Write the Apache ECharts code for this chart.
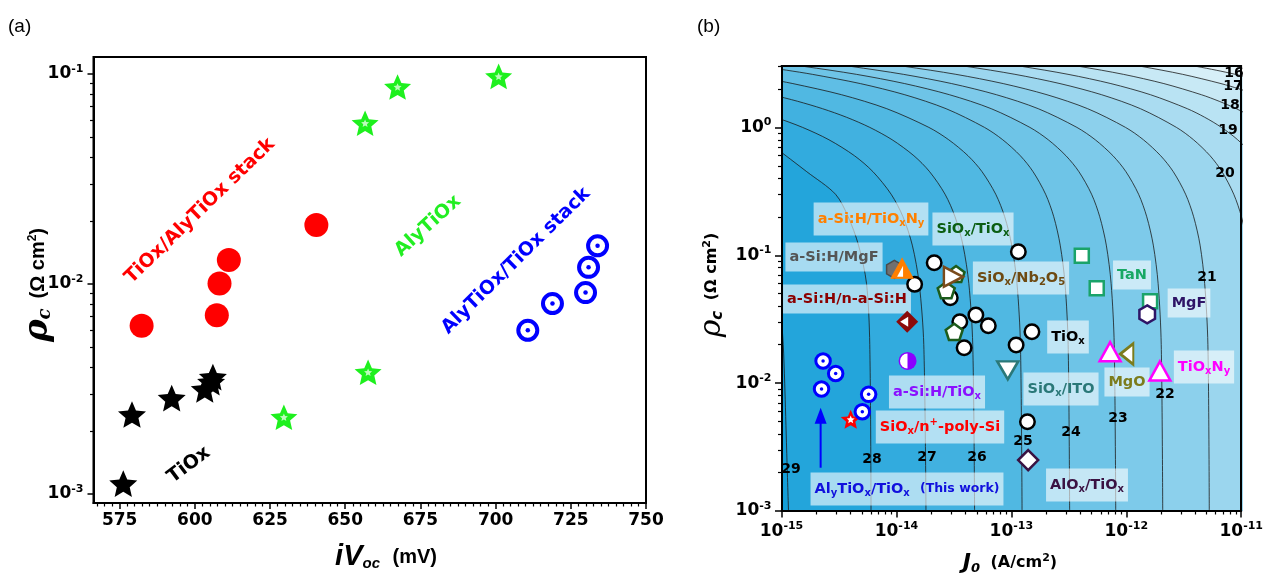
<!DOCTYPE html>
<html><head><meta charset="utf-8">
<script src="https://cdn.jsdelivr.net/npm/echarts@6/dist/echarts.min.js"></script>
<style>html,body{margin:0;padding:0;background:#fff}#c{width:1266px;height:574px}</style>
</head><body><div id="c"></div>
<script>
// ================= Panel (a) data =================
const ivocTicks = [575, 600, 625, 650, 675, 700, 725, 750];
const rhoExpTicksA = [-3, -2, -1];
const tiOxV = [576.2, 579.1, 592.3, 603.3, 605.4, 606.0];
const tiOxRho = [1.12e-3, 2.39e-3, 2.86e-3, 3.15e-3, 3.41e-3, 3.60e-3];
const stackTiAlV = [582.3, 607.3, 608.2, 611.3, 640.4];
const stackTiAlRho = [6.33e-3, 7.10e-3, 1.005e-2, 1.30e-2, 1.91e-2];
const alTiOxV = [629.6, 657.6, 656.6, 667.4, 701.0];
const alTiOxRho = [2.32e-3, 3.80e-3, 5.83e-2, 8.67e-2, 9.74e-2];
const stackAlTiV = [710.7, 718.9, 729.9, 730.9, 733.9];
const stackAlTiRho = [6.02e-3, 8.07e-3, 9.10e-3, 1.20e-2, 1.52e-2];

// ================= Panel (b) data =================
const j0ExpTicks = [-15, -14, -13, -12, -11];
const rhoExpTicksB = [-3, -2, -1, 0];
const contourLevels = [16, 17, 18, 19, 20, 21, 22, 23, 24, 25, 26, 27, 28, 29];
// contour points: [log10 J0, rho_c]
const contour16 = [[-11.572,3.2],[-11.391,3.0],[-11.218,2.8],[-11.051,2.6],[-10.891,2.4],[-10.589,2.0]];
const contour17 = [[-12.064,3.2],[-11.871,3.0],[-11.510,2.6],[-11.176,2.2],[-11.019,2.0],[-10.868,1.8],[-10.726,1.6]];
const contour18 = [[-12.613,3.2],[-12.409,3.0],[-12.026,2.6],[-11.673,2.2],[-11.346,1.8],[-11.192,1.6],[-11.043,1.4],[-10.900,1.2],[-10.761,1.0]];
const contour19 = [[-13.126,3.2],[-12.911,3.0],[-12.507,2.6],[-12.134,2.2],[-11.789,1.8],[-11.469,1.4],[-11.318,1.2],[-11.172,1.0],[-11.031,0.8],[-10.894,0.6],[-10.795,0.45]];
const contour20 = [[-13.621,3.2],[-13.394,3.0],[-12.969,2.6],[-12.577,2.2],[-12.214,1.8],[-11.877,1.4],[-11.564,1.0],[-11.415,0.8],[-11.271,0.6],[-11.167,0.45],[-11.065,0.3],[-10.998,0.2],[-10.946,0.12],[-10.907,0.06]];
const contour21 = [[-14.167,3.2],[-13.930,3.0],[-13.483,2.6],[-13.071,2.2],[-12.690,1.8],[-12.336,1.4],[-12.007,1.0],[-11.851,0.8],[-11.701,0.6],[-11.591,0.45],[-11.484,0.3],[-11.414,0.2],[-11.358,0.12],[-11.318,0.06],[-11.290,0.02],[-11.278,0.001]];
const contour22 = [[-14.641,3.2],[-14.398,3.0],[-13.940,2.6],[-13.519,2.2],[-13.129,1.8],[-12.766,1.4],[-12.430,1.0],[-12.270,0.8],[-12.116,0.6],[-12.003,0.45],[-11.893,0.3],[-11.822,0.2],[-11.765,0.12],[-11.723,0.06],[-11.696,0.02],[-11.683,0.001]];
const contour23 = [[-15.050,3.2],[-14.807,3.0],[-14.349,2.6],[-13.928,2.2],[-13.538,1.8],[-13.175,1.4],[-12.839,1.0],[-12.679,0.8],[-12.525,0.6],[-12.412,0.45],[-12.302,0.3],[-12.231,0.2],[-12.174,0.12],[-12.132,0.06],[-12.105,0.02],[-12.092,0.001]];
const contour24 = [[-15.186,3.0],[-14.955,2.8],[-14.732,2.6],[-14.314,2.2],[-13.927,1.8],[-13.568,1.4],[-13.234,1.0],[-13.075,0.8],[-12.922,0.6],[-12.811,0.45],[-12.702,0.3],[-12.631,0.2],[-12.575,0.12],[-12.533,0.06],[-12.506,0.02],[-12.493,0.001]];
const contour25 = [[-15.359,2.6],[-15.125,2.4],[-14.901,2.2],[-14.477,1.8],[-14.084,1.4],[-13.718,1.0],[-13.545,0.8],[-13.377,0.6],[-13.255,0.45],[-13.136,0.3],[-13.058,0.2],[-12.997,0.12],[-12.951,0.06],[-12.921,0.02],[-12.907,0.001]];
const contour26 = [[-15.319,2.0],[-15.085,1.8],[-14.860,1.6],[-14.643,1.4],[-14.434,1.2],[-14.232,1.0],[-14.037,0.8],[-13.848,0.6],[-13.711,0.45],[-13.577,0.3],[-13.490,0.2],[-13.421,0.12],[-13.370,0.06],[-13.336,0.02],[-13.320,0.001]];
const contour27 = [[-15.301,1.4],[-15.055,1.2],[-14.817,1.0],[-14.587,0.8],[-14.365,0.6],[-14.204,0.45],[-14.046,0.3],[-13.943,0.2],[-13.862,0.12],[-13.802,0.06],[-13.762,0.02],[-13.743,0.001]];
const contour28 = [[-15.15,0.8],[-15.06,0.7],[-14.78,0.45],[-14.53,0.3],[-14.42,0.2],[-14.33,0.12],[-14.26,0.06],[-14.232,0.02],[-14.221,0.001]];
const contour29 = [[-15.03,0.045],[-15.0,0.03],[-14.985,0.02],[-14.972,0.01],[-14.955,0.003],[-14.939,0.001]];
const contourPaths = [contour16, contour17, contour18, contour19, contour20, contour21, contour22, contour23, contour24, contour25, contour26, contour27, contour28, contour29];

const thisWorkJ = [2.30e-15, 2.96e-15, 2.23e-15, 5.73e-15, 5.05e-15];
const thisWorkRho = [0.0149, 0.0119, 0.0090, 0.00817, 0.00597];
const arrowJ = [2.19e-15, 2.19e-15];
const arrowRho = [0.00218, 0.00555];
const polySiJ = [4.0e-15], polySiRho = [0.00521];
const aSiTiOxJ = [1.25e-14], aSiTiOxRho = [0.0149];
const aSiNaSiJ = [1.24e-14], aSiNaSiRho = [0.0302];
const aSiTiOxNyJ = [1.12e-14], aSiTiOxNyRho = [0.079];
const aSiMgFJ = [9.6e-15], aSiMgFRho = [0.0776];
const tiOxJ = [1.15e-13, 2.13e-14, 1.44e-14, 2.94e-14, 3.56e-14, 4.91e-14, 6.30e-14, 3.88e-14, 1.10e-13, 1.51e-13, 1.38e-13];
const tiOxRhoB = [0.1065, 0.0874, 0.0592, 0.0465, 0.0302, 0.0341, 0.0281, 0.0189, 0.0199, 0.0252, 0.00499];
const siOxTiOxJ = [3.30e-14, 2.71e-14, 3.18e-14], siOxTiOxRho = [0.0713, 0.0534, 0.0252];
const siOxNbJ = [3.13e-14], siOxNbRho = [0.0679];
const siOxItoJ = [9.3e-14], siOxItoRho = [0.0126];
const tanJ = [4.10e-13, 5.53e-13, 1.61e-12], tanRho = [0.0991, 0.0551, 0.0436];
const mgfJ = [1.52e-12], mgfRho = [0.0345];
const tiOxNyJ = [7.23e-13, 1.96e-12], tiOxNyRho = [0.0176, 0.01244];
const mgoJ = [1.01e-12], mgoRho = [0.01689];
const alOxJ = [1.40e-13], alOxRho = [0.0025];

// ================= helpers =================
const FONT = 'DejaVu Sans';
const starPath = 'path://M50,0 L63.52,31.39 L97.55,34.55 L71.87,57.11 L79.39,90.45 L50,73 L20.61,90.45 L28.13,57.11 L2.45,34.55 L36.48,31.39 Z';
const hexPath = 'path://M43.3,0 L86.6,25 L86.6,75 L43.3,100 L0,75 L0,25 Z';
const pentPath = 'path://M50,0 L97.6,34.5 L79.4,90.5 L20.6,90.5 L2.4,34.5 Z';
const halfDiscPath = 'path://M50,0 A50,50 0 0 0 50,100 Z';
const cornerTriPath = 'path://M100,0 L100,100 L0,100 Z';

function zip(xs, ys) { return xs.map((x, i) => [x, ys[i]]); }
function logMinor(lo, hi) {
  const out = [];
  for (let d = Math.floor(lo); d <= Math.ceil(hi); d++)
    for (let k = 2; k <= 9; k++) { const v = d + Math.log10(k); if (v > lo + 1e-9 && v < hi - 1e-9) out.push(v); }
  return out;
}
const lightBand = [230, 245, 250], darkBand = [20, 159, 217];
function band(i) { const t = i / 14; const c = lightBand.map((l, k) => Math.round(l + (darkBand[k] - l) * t)); return 'rgb(' + c.join(',') + ')'; }

const tickRich = {
  b: { fontFamily: FONT, fontWeight: 'bold', fontSize: 17, color: '#000' },
  e: { fontFamily: FONT, fontWeight: 'bold', fontSize: 11, color: '#000', padding: [0, 0, 10, 0] }
};
function powLabel(v) { return '{b|10}{e|' + Math.round(v) + '}'; }

// panel (a) ranges
const aXMin = 566.3, aXMax = 750;
const aYMin = 9.06e-4, aYMax = 0.1205;
const aYMinL = Math.log10(aYMin), aYMaxL = Math.log10(aYMax);
const aMinorX = []; for (let v = 567.5; v < 750; v += 2.5) if (v % 25 !== 0) aMinorX.push(v);
// panel (b) ranges
const bYMax = 3.02, bYMaxL = Math.log10(bYMax);

const blackLine = { show: true, onZero: false, lineStyle: { color: '#000', width: 2 } };
const noLine = { show: false, onZero: false };

const xAxes = [
  { gridIndex: 0, type: 'value', position: 'bottom', min: aXMin, max: aXMax, z: 10,
    axisLine: blackLine, splitLine: { show: false },
    axisTick: { show: true, customValues: ivocTicks, length: 6, lineStyle: { color: '#000', width: 1.5 } },
    axisLabel: { show: true, customValues: ivocTicks, margin: 9, fontFamily: FONT, fontWeight: 'bold', fontSize: 17, color: '#000' } },
  { gridIndex: 0, type: 'value', position: 'bottom', min: aXMin, max: aXMax, z: 10,
    axisLine: noLine, splitLine: { show: false }, axisLabel: { show: false },
    axisTick: { show: true, customValues: aMinorX, length: 3.5, lineStyle: { color: '#000', width: 1.2 } } },
  { gridIndex: 1, type: 'log', logBase: 10, min: 1e-15, max: 1e-11, show: false, splitLine: { show: false } },
  { gridIndex: 1, type: 'value', position: 'bottom', min: -15, max: -11, z: 10,
    axisLine: blackLine, splitLine: { show: false },
    axisTick: { show: true, customValues: j0ExpTicks, length: 6.5, lineStyle: { color: '#000', width: 1.5 } },
    axisLabel: { show: true, customValues: j0ExpTicks, margin: 10, formatter: powLabel, rich: tickRich } },
  { gridIndex: 1, type: 'value', position: 'bottom', min: -15, max: -11, z: 10,
    axisLine: noLine, splitLine: { show: false }, axisLabel: { show: false },
    axisTick: { show: true, customValues: logMinor(-15, -11), length: 3.5, lineStyle: { color: '#000', width: 1.2 } } },
  { gridIndex: 1, type: 'value', position: 'top', min: -15, max: -11, z: 10,
    axisLine: blackLine, splitLine: { show: false }, axisLabel: { show: false }, axisTick: { show: false } }
];
const yAxes = [
  { gridIndex: 0, type: 'log', logBase: 10, min: aYMin, max: aYMax, show: false, splitLine: { show: false } },
  { gridIndex: 0, type: 'value', position: 'left', min: aYMinL, max: aYMaxL, z: 10,
    axisLine: blackLine, splitLine: { show: false },
    axisTick: { show: true, customValues: rhoExpTicksA, length: 6, lineStyle: { color: '#000', width: 1.5 } },
    axisLabel: { show: true, customValues: rhoExpTicksA, margin: 10, formatter: powLabel, rich: tickRich } },
  { gridIndex: 0, type: 'value', position: 'left', min: aYMinL, max: aYMaxL, z: 10,
    axisLine: noLine, splitLine: { show: false }, axisLabel: { show: false },
    axisTick: { show: true, customValues: logMinor(aYMinL, aYMaxL), length: 3.5, lineStyle: { color: '#000', width: 1.2 } } },
  { gridIndex: 1, type: 'log', logBase: 10, min: 1e-3, max: bYMax, show: false, splitLine: { show: false } },
  { gridIndex: 1, type: 'value', position: 'left', min: -3, max: bYMaxL, z: 10,
    axisLine: blackLine, splitLine: { show: false },
    axisTick: { show: true, customValues: rhoExpTicksB, length: 6.5, lineStyle: { color: '#000', width: 1.5 } },
    axisLabel: { show: true, customValues: rhoExpTicksB, margin: 10, formatter: powLabel, rich: tickRich } },
  { gridIndex: 1, type: 'value', position: 'left', min: -3, max: bYMaxL, z: 10,
    axisLine: noLine, splitLine: { show: false }, axisLabel: { show: false },
    axisTick: { show: true, customValues: logMinor(-3, bYMaxL), length: 3.5, lineStyle: { color: '#000', width: 1.2 } } },
  { gridIndex: 1, type: 'value', position: 'right', min: -3, max: bYMaxL, z: 10,
    axisLine: blackLine, splitLine: { show: false }, axisLabel: { show: false }, axisTick: { show: false } }
];

function sc(xi, yi, xs, ys, symbol, size, itemStyle, extra) {
  return Object.assign({ type: 'scatter', xAxisIndex: xi, yAxisIndex: yi, data: zip(xs, ys), symbol: symbol,
    symbolSize: size, symbolKeepAspect: true, itemStyle: Object.assign({ opacity: 1 }, itemStyle), z: 5, silent: true, animation: false }, extra || {});
}
const series = [];
// ---- panel (a) ----
series.push(sc(0, 0, tiOxV, tiOxRho, starPath, 28, { color: '#000' }));
series.push(sc(0, 0, stackTiAlV, stackTiAlRho, 'circle', 24, { color: '#ff0000' }));
series.push(sc(0, 0, alTiOxV, alTiOxRho, starPath, 27, { color: '#1ef01e' }));
series.push(sc(0, 0, alTiOxV, alTiOxRho, starPath, 8, { color: '#ffffff', opacity: 0.7 }, { z: 6 }));
series.push(sc(0, 0, stackAlTiV, stackAlTiRho, 'circle', 19, { color: '#fff', borderColor: '#0000ff', borderWidth: 4 }));
series.push(sc(0, 0, stackAlTiV, stackAlTiRho, 'circle', 4.5, { color: '#0000ff' }, { z: 6 }));

// ---- panel (b) contours ----
contourLevels.forEach((lev, i) => {
  const pts = contourPaths[i].map(p => [Math.pow(10, p[0]), p[1]]);
  if (pts[0][1] >= bYMax) { pts.unshift([pts[0][0], 60]); pts.unshift([1e-16, 60]); }
  series.push({ type: 'line', xAxisIndex: 2, yAxisIndex: 3, data: pts, smooth: 0.3,
    symbol: 'none', showSymbol: false, clip: true, silent: true, animation: false, z: 1,
    lineStyle: { color: '#1a1a1a', width: 0.8 },
    areaStyle: { color: band(lev - 15), opacity: 1, origin: 'start' } });
});

// ---- panel (b) markers ----
const W = '#ffffff';
series.push(sc(2, 3, tiOxJ, tiOxRhoB, 'circle', 14.5, { color: W, borderColor: '#000', borderWidth: 2.5 }));
series.push(sc(2, 3, siOxTiOxJ, siOxTiOxRho, pentPath, 17, { color: W, borderColor: '#1c5c1c', borderWidth: 2.5 }));
series.push(sc(2, 3, siOxNbJ, siOxNbRho, 'triangle', [20, 19], { color: W, borderColor: '#7a4b1c', borderWidth: 2.5 }, { symbolRotate: -90, symbolKeepAspect: false }));
series.push(sc(2, 3, aSiMgFJ, aSiMgFRho, hexPath, 18, { color: '#707070', borderColor: '#4a4a4a', borderWidth: 1.5 }));
series.push(sc(2, 3, aSiTiOxNyJ, aSiTiOxNyRho, 'triangle', [22, 20], { color: '#ff7f00', borderColor: '#ff7f00', borderWidth: 1 }, { symbolKeepAspect: false }));
series.push(sc(2, 3, aSiTiOxNyJ, aSiTiOxNyRho, cornerTriPath, [6, 11], { color: W }, { symbolOffset: [-2, 3], symbolKeepAspect: false, z: 6 }));
series.push(sc(2, 3, aSiNaSiJ, aSiNaSiRho, 'diamond', 22, { color: '#8b0a0a' }));
series.push(sc(2, 3, aSiNaSiJ, aSiNaSiRho, 'triangle', [10, 8], { color: W }, { symbolRotate: 90, symbolOffset: [-3, 0], symbolKeepAspect: false, z: 6 }));
series.push(sc(2, 3, aSiTiOxJ, aSiTiOxRho, 'circle', 18, { color: '#8b00ff' }));
series.push(sc(2, 3, aSiTiOxJ, aSiTiOxRho, halfDiscPath, [7.5, 15], { color: W }, { symbolOffset: [-3.8, 0], symbolKeepAspect: false, z: 6 }));
series.push(sc(2, 3, siOxItoJ, siOxItoRho, 'triangle', [21, 18], { color: W, borderColor: '#2a7878', borderWidth: 2.5 }, { symbolRotate: 180, symbolKeepAspect: false }));
series.push(sc(2, 3, tanJ, tanRho, 'rect', 14, { color: W, borderColor: '#1aa36a', borderWidth: 2.5 }));
series.push(sc(2, 3, mgfJ, mgfRho, hexPath, 18, { color: W, borderColor: '#2e1466', borderWidth: 2.5 }));
series.push(sc(2, 3, tiOxNyJ, tiOxNyRho, 'triangle', [21, 19], { color: W, borderColor: '#ff00ff', borderWidth: 2.5 }, { symbolKeepAspect: false }));
series.push(sc(2, 3, mgoJ, mgoRho, 'triangle', [21, 13], { color: W, borderColor: '#7c7c1c', borderWidth: 2.5 }, { symbolRotate: 90, symbolKeepAspect: false }));
series.push(sc(2, 3, alOxJ, alOxRho, 'diamond', 20, { color: W, borderColor: '#3a1242', borderWidth: 2.5 }));
series.push(sc(2, 3, polySiJ, polySiRho, starPath, 20, { color: '#ff0000' }));
series.push(sc(2, 3, polySiJ, polySiRho, starPath, 8, { color: W }, { z: 6 }));
series.push(sc(2, 3, thisWorkJ, thisWorkRho, 'circle', 14.5, { color: W, borderColor: '#0000ff', borderWidth: 3 }));
series.push(sc(2, 3, thisWorkJ, thisWorkRho, 'circle', 3.5, { color: '#0000ff' }, { z: 6 }));
series.push({ type: 'line', xAxisIndex: 2, yAxisIndex: 3, silent: true, animation: false, z: 5,
  data: [{ value: [arrowJ[0], arrowRho[0]], symbol: 'none' }, { value: [arrowJ[1], arrowRho[1]], symbol: 'triangle', symbolSize: [12, 16] }],
  showSymbol: true, lineStyle: { color: '#0000ff', width: 2 }, itemStyle: { color: '#0000ff', opacity: 1 } });

// ================= graphic text =================
const graphics = [];
function txt(x, y, text, rich, opt) {
  opt = opt || {};
  graphics.push({ type: 'text', x: x, y: y, rotation: (opt.rot || 0) * Math.PI / 180, z: opt.z || 4, silent: true,
    style: Object.assign({ text: text, rich: rich, align: opt.align || 'center', verticalAlign: 'middle' }, opt.style || {}) });
}
function st(size, color, extra, family) {
  return Object.assign({ fontSize: size, fontWeight: 'bold', fontFamily: family || FONT, fill: color }, extra || {});
}
// panel labels
txt(8, 27, '(a)', null, { align: 'left', style: { font: '19px "Liberation Sans"', fill: '#000' } });
txt(697, 27, '(b)', null, { align: 'left', style: { font: '19px "Liberation Sans"', fill: '#000' } });
// panel (a) annotations
txt(200, 211, 'TiOx/AlyTiOx stack', null, { rot: 44, z: 6, style: { font: 'bold 19px "DejaVu Sans"', fill: '#ff0000' } });
txt(428, 226, 'AlyTiOx', null, { rot: 42, z: 6, style: { font: 'bold 19px "DejaVu Sans"', fill: '#22ee22' } });
txt(516, 261, 'AlyTiOx/TiOx stack', null, { rot: 44.5, z: 6, style: { font: 'bold 19px "DejaVu Sans"', fill: '#0000ff' } });
txt(189, 465, 'TiOx', null, { rot: 37, z: 6, style: { font: 'bold 19px "DejaVu Sans"', fill: '#000' } });
// axis titles
const LS = 'Liberation Sans', SER = 'DejaVu Serif';
txt(38, 285, '{r|ρ}{c|c}{g|  }{u|(Ω cm}{p|2}{u|)}', {
  r: st(34, '#000', { fontStyle: 'italic' }, SER), c: st(18, '#000', { fontStyle: 'italic', padding: [15, 0, 0, 0] }, SER),
  g: st(18, '#000', {}, LS), u: st(20, '#000', {}, LS), p: st(12, '#000', { padding: [0, 0, 11, 0] }, LS) }, { rot: 90 });
txt(386, 557, '{i|iV}{o|oc}{g|   }{u|(mV)}', {
  i: st(29, '#000', { fontStyle: 'italic' }, LS), o: st(15, '#000', { fontStyle: 'italic', padding: [13, 0, 0, 0] }, LS),
  g: st(15, '#000', {}, LS), u: st(20, '#000', {}, LS) });
txt(712, 285, '{r|ρ}{c|c}{g|  }{u|(Ω cm}{p|2}{u|)}', {
  r: st(30, '#000', { fontStyle: 'italic', fontWeight: 'normal' }, SER), c: st(15, '#000', { fontStyle: 'italic', padding: [13, 0, 0, 0] }, FONT),
  g: st(15, '#000'), u: st(16, '#000'), p: st(11, '#000', { padding: [0, 0, 10, 0] }) }, { rot: 90 });
txt(1010, 563, '{i|J}{o|0}{g|  }{u|(A/cm}{p|2}{u|)}', {
  i: st(22, '#000', { fontStyle: 'italic' }), o: st(13, '#000', { fontStyle: 'italic', padding: [11, 0, 0, 0] }),
  g: st(15, '#000'), u: st(16, '#000'), p: st(11, '#000', { padding: [0, 0, 10, 0] }) });
// contour labels (b)
const contourLabelPos = [[1234, 73], [1233, 86], [1230, 105], [1228, 130], [1225, 173], [1207, 277], [1165, 394], [1118, 418], [1071, 432], [1023, 441], [977, 457], [927, 457], [872, 459], [791, 469]];
contourLevels.forEach((lev, i) => txt(contourLabelPos[i][0], contourLabelPos[i][1], String(lev), null,
  { z: 4, style: { font: 'bold 14px "DejaVu Sans"', fill: '#000' } }));
// annotation boxes (b)
function box(x, y, text, color) {
  txt(x, y, text, {
    m: st(14.5, color), s: st(10, color, { padding: [9, 0, 0, 0] }), p: st(10, color, { padding: [0, 0, 9, 0] }),
    t: st(12.5, color) }, { z: 4, style: { backgroundColor: 'rgba(255,255,255,0.6)', padding: [7, 4, 7, 4] } });
}
box(871, 219, '{m|a-Si:H/TiO}{s|x}{m|N}{s|y}', '#ff8000');
box(973, 229, '{m|SiO}{s|x}{m|/TiO}{s|x}', '#0b5e12');
box(834, 257, '{m|a-Si:H/MgF}', '#555555');
box(1021, 278, '{m|SiO}{s|x}{m|/Nb}{s|2}{m|O}{s|5}', '#6e4a12');
box(847, 299, '{m|a-Si:H/n-a-Si:H}', '#8b0000');
box(1132, 275, '{m|TaN}', '#18a864');
box(1189, 303, '{m|MgF}', '#2e1466');
box(1068, 337, '{m|TiO}{s|x}', '#000000');
box(1204, 367, '{m|TiO}{s|x}{m|N}{s|y}', '#ff00ff');
box(1127, 382, '{m|MgO}', '#7c7c1c');
box(1061, 389, '{m|SiO}{s|x}{m|/ITO}', '#2a7878');
box(937, 392, '{m|a-Si:H/TiO}{s|x}', '#8a10ff');
box(940, 427, '{m|SiO}{s|x}{m|/n}{p|+}{m|-poly-Si}', '#ff0000');
box(907, 489, '{m|Al}{s|y}{m|TiO}{s|x}{m|/TiO}{s|x}{m|  }{t|(This work)}', '#1010dd');
box(1087, 485, '{m|AlO}{s|x}{m|/TiO}{s|x}', '#3a1242');

const chart = echarts.init(document.getElementById('c'), null, { renderer: 'canvas' });
chart.setOption({
  animation: false,
  backgroundColor: '#ffffff',
  grid: [
    { left: 93.5, top: 57, width: 552.5, height: 446, show: true, borderColor: '#000', borderWidth: 2, backgroundColor: 'transparent' },
    { left: 781.5, top: 66, width: 462, height: 445, show: true, borderWidth: 0, backgroundColor: band(0) }
  ],
  xAxis: xAxes,
  yAxis: yAxes,
  series: series,
  graphic: { elements: graphics }
});
</script>
</body></html>
